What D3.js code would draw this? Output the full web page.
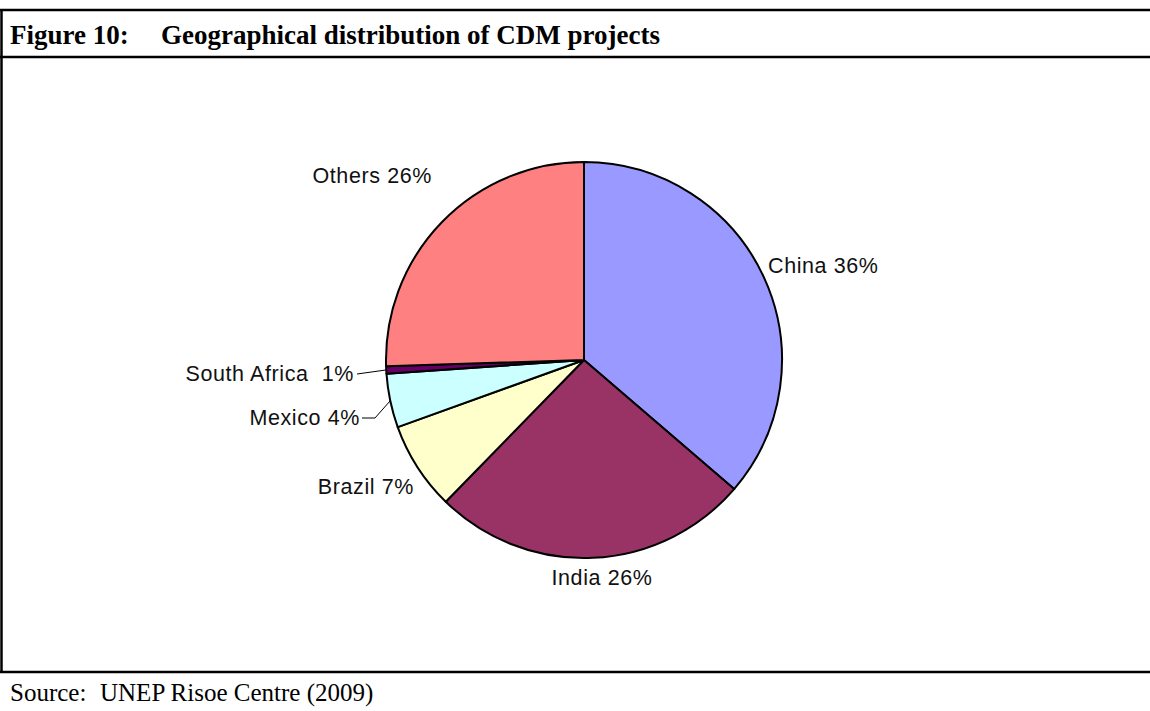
<!DOCTYPE html>
<html lang="en">
  <head>
    <meta charset="UTF-8" />
    <title>Geographical distribution of CDM projects</title>
    <script src="https://cdn.jsdelivr.net/npm/d3@7"></script>
    <style>
      body { margin: 0; background: #fff; }
    </style>
  </head>
  <body>
    <svg id="container" width="1150" height="711"></svg>
    <script>
      // shares (labels show them rounded)
      const countries = ["China", "India", "Brazil", "Mexico", "South Africa", "Others"];
      const shares = [36.3, 26.0, 7.2, 4.4, 0.6, 25.5];
      const colors = ["#9999ff", "#993366", "#ffffcc", "#ccffff", "#660066", "#ff8080"];

      let svg = d3.select("#container");

      // frame lines
      const topY = 10, headY = 57, botY = 672;
      [topY, headY, botY].forEach((y) => {
        svg.append("line").attr("x1", 0).attr("x2", 1150).attr("y1", y).attr("y2", y)
          .attr("stroke", "#000").attr("stroke-width", 2.5);
      });
      svg.append("line").attr("x1", 1.5).attr("x2", 1.5).attr("y1", topY - 1).attr("y2", botY + 1)
        .attr("stroke", "#000").attr("stroke-width", 2.5);

      // header + source
      const serif = "'Liberation Serif', 'Times New Roman', serif";
      svg.append("text").attr("x", 10).attr("y", 44).text("Figure 10:")
        .attr("font-family", serif).attr("font-weight", "bold").attr("font-size", 27);
      svg.append("text").attr("x", 161).attr("y", 44).text("Geographical distribution of CDM projects")
        .attr("font-family", serif).attr("font-weight", "bold").attr("font-size", 27);
      svg.append("text").attr("x", 10).attr("y", 701).text("Source:")
        .attr("font-family", serif).attr("font-size", 25);
      svg.append("text").attr("x", 100).attr("y", 701).text("UNEP Risoe Centre (2009)")
        .attr("font-family", serif).attr("font-size", 25);

      // pie
      const cx = 584, cy = 360, r = 198;
      let pie = d3.pie().sort(null).value((d) => d.value);
      let arc = d3.arc().innerRadius(0).outerRadius(r);
      let data = countries.map((c, i) => ({ name: c, value: shares[i], color: colors[i] }));
      let arcs = pie(data);

      let g = svg.append("g").attr("transform", `translate(${cx},${cy})`);
      g.selectAll("path")
        .data(arcs)
        .enter()
        .append("path")
        .attr("d", arc)
        .attr("fill", (d) => d.data.color)
        .attr("stroke", "#000")
        .attr("stroke-width", 2)
        .attr("stroke-linejoin", "round");

      // label positions (offsets from centre) and anchors
      const labelPos = {
        "China": [184, -95, "start"],
        "India": [18, 217, "middle"],
        "Brazil": [-170, 126, "end"],
        "Mexico": [-224, 57, "end"],
        "South Africa": [-230, 13, "end"],
        "Others": [-152, -185, "end"],
      };
      const sans = "'Liberation Sans', Arial, sans-serif";
      g.selectAll("text.lbl")
        .data(arcs)
        .enter()
        .append("text")
        .attr("class", "lbl")
        .attr("x", (d) => labelPos[d.data.name][0])
        .attr("y", (d) => labelPos[d.data.name][1])
        .attr("text-anchor", (d) => labelPos[d.data.name][2])
        .attr("dy", "0.35em")
        .attr("font-family", sans)
        .attr("font-size", 21.5)
        .attr("letter-spacing", 0.6)
        .attr("fill", "#111")
        .attr("xml:space", "preserve")
        .text((d) => d.data.name + (d.data.name == "South Africa" ? "  " : " ") + Math.round(d.data.value) + "%");

      // leader lines for the small slices
      let edge = (d) => {
        let a = (d.startAngle + d.endAngle) / 2;
        return [Math.sin(a) * r, -Math.cos(a) * r];
      };
      let sa = arcs[4], mx = arcs[3];
      g.append("polyline")
        .attr("points", [[-227, 14], edge(sa)].map((q) => q.join(",")).join(" "))
        .attr("fill", "none").attr("stroke", "#000").attr("stroke-width", 1);
      g.append("polyline")
        .attr("points", [[-222, 58], [-209, 58], edge(mx)].map((q) => q.join(",")).join(" "))
        .attr("fill", "none").attr("stroke", "#000").attr("stroke-width", 1);
    </script>
  </body>
</html>
